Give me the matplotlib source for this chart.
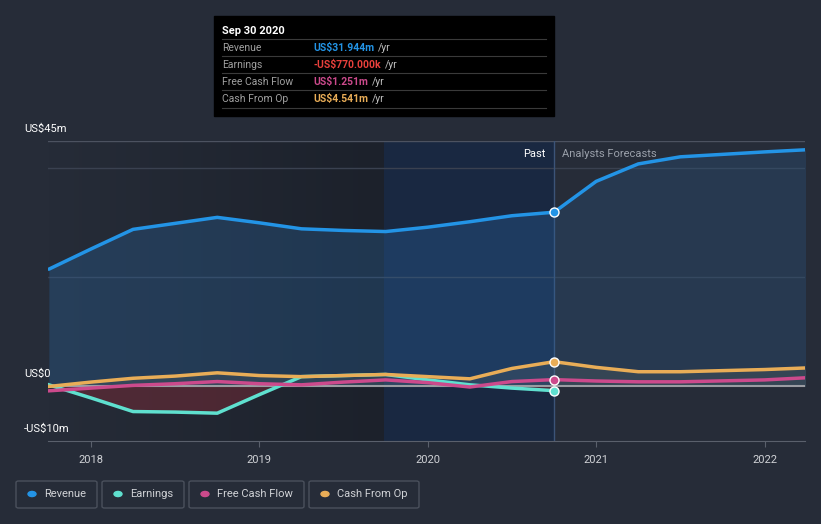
import numpy as np
import matplotlib.pyplot as plt
from matplotlib.patches import Rectangle, FancyBboxPatch
from matplotlib.colors import LinearSegmentedColormap

plt.rcParams['font.family'] = ['Roboto', 'DejaVu Sans']

# quarterly points, x in fractional years
past_x = [2017.75, 2018.0, 2018.25, 2018.5, 2018.75, 2019.0, 2019.25, 2019.5,
          2019.75, 2020.0, 2020.25, 2020.5, 2020.75]
revenue = [21.5, 25.2, 28.8, 29.9, 31.0, 30.0, 28.9, 28.6, 28.4, 29.2, 30.2, 31.3, 31.944]
earnings = [0.3, -2.1, -4.6, -4.7, -4.9, -1.5, 1.8, 2.0, 2.2, 1.2, 0.3, -0.3, -0.77]
fcf = [-0.8, -0.3, 0.2, 0.5, 0.9, 0.5, 0.3, 0.8, 1.2, 0.7, -0.1, 0.9, 1.251]
cfo = [0.0, 0.8, 1.5, 1.9, 2.5, 2.0, 1.8, 2.0, 2.2, 1.8, 1.4, 3.3, 4.541]

fc_x = [2020.75, 2021.0, 2021.25, 2021.5, 2022.0, 2022.25]
revenue_fc = [31.944, 37.6, 40.8, 42.1, 43.0, 43.4]
cfo_fc = [4.541, 3.5, 2.7, 2.7, 3.1, 3.4]
fcf_fc = [1.251, 1.0, 0.85, 0.85, 1.2, 1.6]

years = [2018, 2019, 2020, 2021, 2022]

BG = '#262c38'
C_REV = '#2394e6'
C_EARN = '#5fe0cf'
C_FCF = '#cc4a8c'
C_CFO = '#e9ad57'

fig = plt.figure(figsize=(8.21, 5.24), dpi=100)
fig.patch.set_facecolor(BG)
ax = fig.add_axes([48 / 821, 1 - 441 / 524, 757 / 821, 300 / 524])
ax.set_facecolor(BG)
x0, x1 = 2017.745, 2022.24
ax.set_xlim(x0, x1)
ax.set_ylim(-10, 45)

# darker left band, past-year highlight
grad = np.linspace(0, 1, 256).reshape(1, -1)
ax.imshow(grad, extent=[x0, 2019.74, -10, 45], aspect='auto',
          cmap=LinearSegmentedColormap.from_list('g', [BG, '#1c212b']), zorder=0)
ax.add_patch(Rectangle((2019.74, -10), 1.01, 55, color='#162844', alpha=0.8, zorder=0.5, lw=0))

for y in [20, 40]:
    ax.axhline(y, color='#3a4150', lw=1, zorder=1)
ax.axhline(45, color='#4c5260', lw=1, zorder=1)
ax.axvline(2020.75, color='#3c5478', lw=1, zorder=1)

# fills
ax.fill_between(past_x, revenue, 0, color='#2a6aa8', alpha=0.3, lw=0, zorder=2)
ax.fill_between(fc_x, revenue_fc, 0, color='#2a5a88', alpha=0.3, lw=0, zorder=2)
e = np.array(earnings)
ax.fill_between(past_x, e, 0, where=e < 0, interpolate=True, color='#6b2a36', alpha=0.6, lw=0, zorder=2)
ax.fill_between(past_x, cfo, 0, color='#8a8a70', alpha=0.15, lw=0, zorder=2)
ax.fill_between(fc_x, cfo_fc, 0, color='#8a8a70', alpha=0.15, lw=0, zorder=2)

ax.axhline(0, color='#9a9ca2', lw=1.5, zorder=3)

lw = 2.5
ax.plot(past_x, revenue, color=C_REV, lw=lw, zorder=5, solid_capstyle='round')
ax.plot(fc_x, revenue_fc, color=C_REV, lw=lw, zorder=5, solid_capstyle='round')
ax.plot(past_x, earnings, color=C_EARN, lw=lw, zorder=4)
ax.plot(past_x, fcf, color=C_FCF, lw=lw, zorder=4)
ax.plot(fc_x, fcf_fc, color=C_FCF, lw=lw, zorder=4)
ax.plot(past_x, cfo, color=C_CFO, lw=lw, zorder=4)
ax.plot(fc_x, cfo_fc, color=C_CFO, lw=lw, zorder=4)

for v, c in [(revenue[-1], C_REV), (earnings[-1], C_EARN), (fcf[-1], C_FCF), (cfo[-1], C_CFO)]:
    ax.plot([past_x[-1]], [v], 'o', ms=6.5, color=c, mec='white', mew=1, zorder=6)

ax.text(2020.7, 42.6, 'Past', color='white', fontsize=8, ha='right', va='center', zorder=7)
ax.text(2020.8, 42.6, 'Analysts Forecasts', color='#9aa0aa', fontsize=8, ha='left', va='center', zorder=7)

ax.set_xticks(years)
ax.set_xticklabels([str(y) for y in years], color='#d0d2d6', fontsize=8)
ax.set_yticks([])
ax.tick_params(axis='x', length=4, color='#5a606c', pad=6)
for s in ['left', 'right', 'top']:
    ax.spines[s].set_visible(False)
ax.spines['bottom'].set_color('#5a606c')

fig.text(24 / 821, 1 - 129 / 524, 'US$45m', color='white', fontsize=8, va='center')
fig.text(24 / 821, 1 - 374 / 524, 'US$0', color='white', fontsize=8, va='center')
fig.text(24 / 821, 1 - 429 / 524, '-US$10m', color='white', fontsize=8, va='center')

# tooltip
fig.patches.append(Rectangle((214 / 821, 1 - 116 / 524), 340 / 821, 100 / 524,
                             transform=fig.transFigure, color='black', zorder=10))
fig.text(222 / 821, 1 - 31 / 524, 'Sep 30 2020', color='white', fontsize=8,
         fontweight='bold', va='center', zorder=11)
rows = [('Revenue', 'US$31.944m', C_REV), ('Earnings', '-US$770.000k', '#e8403c'),
        ('Free Cash Flow', 'US$1.251m', C_FCF), ('Cash From Op', 'US$4.541m', C_CFO)]
r = fig.canvas.get_renderer()
for i, (lab, val, c) in enumerate(rows):
    yy = 1 - (48 + 17 * i) / 524
    fig.lines.append(plt.Line2D([222 / 821, 546 / 821], [yy + 9 / 524] * 2, transform=fig.transFigure,
                                color='#3a3a3a', lw=0.8, zorder=11))
    fig.text(222 / 821, yy, lab, color='#a0a0a0', fontsize=7.5, va='center', zorder=11)
    t = fig.text(313 / 821, yy, val, color=c, fontsize=7.5, fontweight='bold', va='center', zorder=11)
    w = t.get_window_extent(r).width
    fig.text(313 / 821 + (w + 4) / 821, yy, '/yr', color='#c0c0c0', fontsize=7.5, va='center', zorder=11)
fig.lines.append(plt.Line2D([222 / 821, 546 / 821], [1 - 108 / 524] * 2, transform=fig.transFigure,
                            color='#3a3a3a', lw=0.8, zorder=11))

# legend boxes
legend = [('Revenue', C_REV, 16, 97), ('Earnings', C_EARN, 102, 184),
          ('Free Cash Flow', C_FCF, 189, 304), ('Cash From Op', C_CFO, 309, 419)]
for lab, c, l, rgt in legend:
    fig.patches.append(FancyBboxPatch((l / 821, 1 - 508 / 524), (rgt - l) / 821, 27 / 524,
                                      boxstyle='round,pad=0,rounding_size=0.003',
                                      transform=fig.transFigure, fc='none', ec='#4a505c', lw=1))
    fig.patches.append(plt.Circle(((l + 16) / 821, 1 - 494 / 524), 4 / 821, transform=fig.transFigure,
                                  color=c))
    fig.text((l + 28) / 821, 1 - 494 / 524, lab, color='#d0d2d6', fontsize=8, va='center')

fig.savefig('out.png', dpi=100, facecolor=BG)
